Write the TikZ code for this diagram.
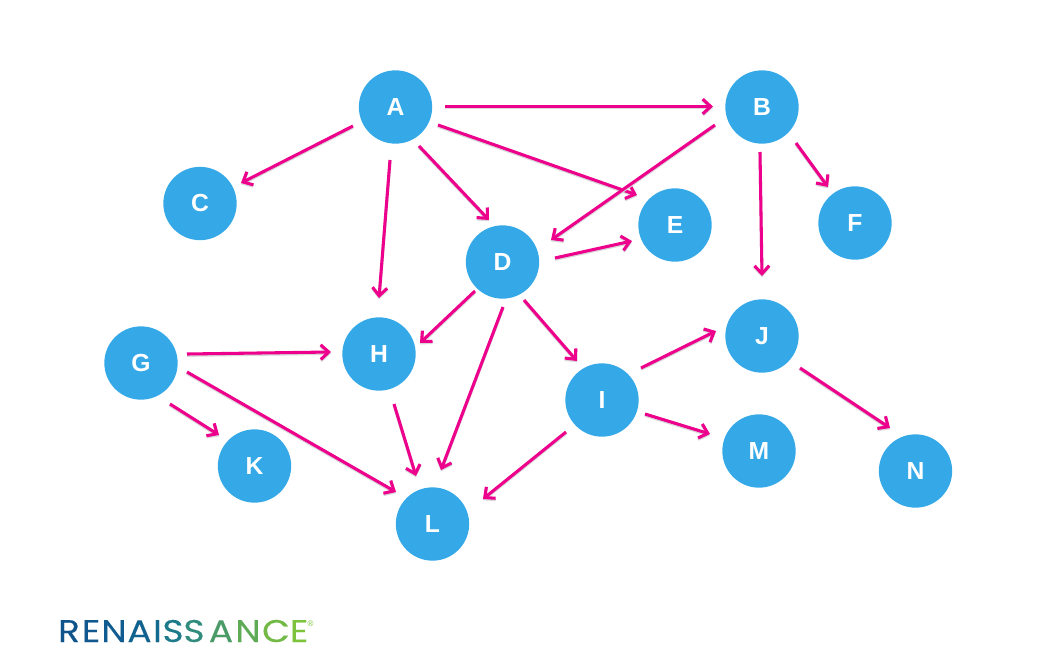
\documentclass[tikz,border=0pt]{standalone}
\usepackage{fontspec}
\setmainfont{Liberation Sans}
\newfontfamily\logofont[FakeBold=0.15]{Poppins}
\usetikzlibrary{calc,arrows.meta}
\definecolor{nodeblue}{HTML}{35A9E8}
\definecolor{linkpink}{HTML}{EC008C}
\definecolor{shade}{HTML}{D8D8D8}
\tikzset{
  circ/.style={circle,fill=nodeblue,minimum size=55pt,inner sep=0pt,text=white,font=\fontsize{18.5}{18.5}\selectfont\bfseries},
  link/.style={draw=linkpink,line width=2.3pt,-{Straight Barb[length=6pt,width=11pt,line width=2.3pt]}},
  linkshade/.style={draw=shade,line width=2.3pt,-{Straight Barb[length=6pt,width=11pt,line width=2.3pt]}},
  logo/.style={inner sep=0pt,anchor=base,font=\logofont\fontsize{23.5}{23.5}\selectfont}
}
\newcommand{\lnk}[4]{%
  \draw[linkshade,transform canvas={yshift=-1pt}] ($(#1)+(#2)$) -- ($(#3)+(#4)$);
  \draw[link] ($(#1)+(#2)$) -- ($(#3)+(#4)$);}
\newcommand{\wide}[1]{\scalebox{1.15}[1]{#1}}
\begin{document}
\begin{tikzpicture}[x=0.75pt,y=-0.75pt]
\useasboundingbox (0,0) rectangle (1047,653);
\node[circ] (A) at (395.5,107) {A};
\node[circ] (B) at (762,107) {B};
\node[circ] (C) at (200,203.5) {C};
\node[circ] (D) at (502.5,262) {D};
\node[circ] (E) at (675,225) {E};
\node[circ] (F) at (855,223) {F};
\node[circ] (G) at (141,363) {G};
\node[circ] (H) at (379,354) {H};
\node[circ] (I) at (602,400) {I};
\node[circ] (J) at (762,336) {J};
\node[circ] (K) at (254.5,466) {K};
\node[circ] (L) at (432.5,524) {L};
\node[circ] (M) at (759,451) {M};
\node[circ] (N) at (915.5,471) {N};
\lnk{A}{49.5,-0.5}{B}{-49,-0.5}
\lnk{A}{-42.5,19}{C}{41,-20.5}
\lnk{A}{-5.5,53}{H}{0,-56}
\lnk{A}{23.5,39}{D}{-13.5,-42}
\lnk{A}{42.5,18}{E}{-38,-30}
\lnk{B}{-47,18}{D}{48.5,-22}
\lnk{B}{-2,45}{J}{0,-60}
\lnk{B}{34,36}{F}{-27,-36}
\lnk{D}{52.5,-4}{E}{-43,16}
\lnk{D}{-27.5,29}{H}{41,-11}
\lnk{D}{0.5,45}{L}{8.5,-54}
\lnk{D}{21.5,38}{I}{-25,-39}
\lnk{G}{46,-9}{H}{-48,-2}
\lnk{G}{29,41}{K}{-35.5,-31}
\lnk{G}{46,9}{L}{-36.5,-32}
\lnk{H}{15,50}{L}{-16.5,-48}
\lnk{I}{39,-32}{J}{-46,-5}
\lnk{I}{43,14}{M}{-49,-17}
\lnk{I}{-36,32}{L}{50.5,-25}
\lnk{J}{38,32}{N}{-25.5,-43}
\node[logo,text={rgb,255:red,16;green,84;blue,140}] (l1) at (69,642) {\wide{R}};
\node[logo,text={rgb,255:red,16;green,88;blue,142}] (l2) at (91,642) {\wide{E}};
\node[logo,text={rgb,255:red,16;green,92;blue,144}] (l3) at (114,642) {\wide{N}};
\node[logo,text={rgb,255:red,18;green,98;blue,144}] (l4) at (139.5,642) {\wide{A}};
\node[logo,text={rgb,255:red,20;green,106;blue,142}] (l5) at (157.5,642) {\wide{I}};
\node[logo,text={rgb,255:red,28;green,122;blue,138}] (l6) at (173,642) {\wide{S}};
\node[logo,text={rgb,255:red,50;green,140;blue,125}] (l7) at (194,642) {\wide{S}};
\node[logo,text={rgb,255:red,75;green,155;blue,105}] (l8) at (221,642) {\wide{A}};
\node[logo,text={rgb,255:red,95;green,170;blue,85}] (l9) at (248,642) {\wide{N}};
\node[logo,text={rgb,255:red,115;green,185;blue,70}] (l10) at (276,642) {\wide{C}};
\node[logo,text={rgb,255:red,125;green,195;blue,60}] (l11) at (299,642) {\wide{E}};
\node[inner sep=0pt,text={rgb,255:red,125;green,195;blue,60},font=\fontsize{6}{6}\selectfont] (reg) at (310.5,624) {®};
\end{tikzpicture}
\end{document}
